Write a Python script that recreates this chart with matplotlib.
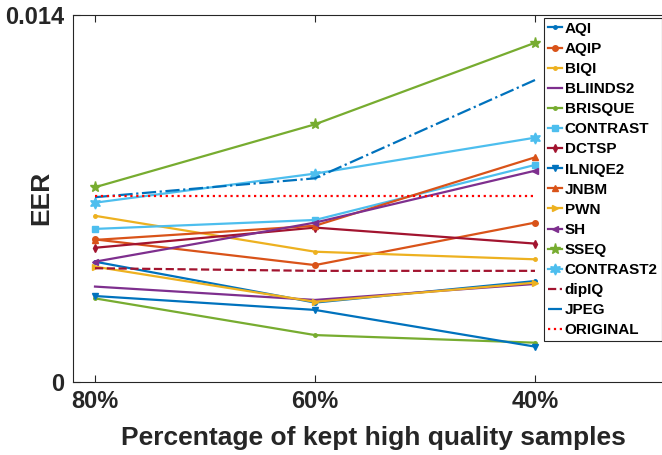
import matplotlib
matplotlib.use('Agg')
import matplotlib.pyplot as plt

plt.rcParams['font.family'] = ['Liberation Sans', 'DejaVu Sans']
plt.rcParams['font.weight'] = 'bold'

# data
xlabels = ['80%', '60%', '40%']
AQI = [0.00459, 0.00303, 0.00385]
AQIP = [0.00544, 0.00446, 0.00608]
BIQI = [0.00634, 0.00497, 0.00468]
BLIINDS2 = [0.00364, 0.00313, 0.00374]
BRISQUE = [0.00319, 0.00179, 0.00150]
CONTRAST = [0.00584, 0.00618, 0.00828]
DCTSP = [0.00512, 0.00589, 0.00528]
ILNIQE2 = [0.00328, 0.00275, 0.00135]
JNBM = [0.00542, 0.00596, 0.00857]
PWN = [0.00440, 0.00306, 0.00379]
SH = [0.00459, 0.00608, 0.00806]
SSEQ = [0.00743, 0.00983, 0.01294]
CONTRAST2 = [0.00684, 0.00795, 0.00932]
dipIQ = [0.00434, 0.00424, 0.00424]
JPEG = [0.00705, 0.00777, 0.01152]
ORIGINAL = [0.00711, 0.00711, 0.00711]

blue = '#0072BD'
orange = '#D95319'
yellow = '#EDB120'
purple = '#7E2F8E'
green = '#77AC30'
cyan = '#4DBEEE'
darkred = '#A2142F'

hexagram = (6, 1, 0)

series = [
    ('AQI', AQI, blue, '.', '-'),
    ('AQIP', AQIP, orange, 'o', '-'),
    ('BIQI', BIQI, yellow, '.', '-'),
    ('BLIINDS2', BLIINDS2, purple, '', '-'),
    ('BRISQUE', BRISQUE, green, '.', '-'),
    ('CONTRAST', CONTRAST, cyan, 's', '-'),
    ('DCTSP', DCTSP, darkred, 'd', '-'),
    ('ILNIQE2', ILNIQE2, blue, 'v', '-'),
    ('JNBM', JNBM, orange, '^', '-'),
    ('PWN', PWN, yellow, '>', '-'),
    ('SH', SH, purple, '<', '-'),
    ('SSEQ', SSEQ, green, '*', '-'),
    ('CONTRAST2', CONTRAST2, cyan, hexagram, '-'),
    ('dipIQ', dipIQ, darkred, '', '--'),
    ('JPEG', JPEG, blue, '', '-.'),
    ('ORIGINAL', ORIGINAL, '#FF0000', '', ':'),
]

text_c = '#262626'

fig = plt.figure(figsize=(6.62, 4.55), dpi=100)
ax = fig.add_axes([73 / 662, 73 / 455, 600 / 662, 367 / 455])

x = [1, 2, 3]
for name, vals, col, mk, ls in series:
    ms = 5
    if mk == '.':
        ms = 5
    elif mk == '*' or mk == hexagram:
        ms = 8
    elif mk in ('o', 's', 'd'):
        ms = 4
    ax.plot(x, vals, color=col, marker=mk, linestyle=ls, linewidth=1.6,
            markersize=ms, label=name)

ax.set_xlim(0.9, 0.9 + 600 / 220)
ax.set_ylim(0, 0.014)
ax.set_xticks(x)
ax.set_xticklabels(xlabels)
ax.set_yticks([0, 0.014])
ax.set_yticklabels(['0', '0.014'])
ax.tick_params(direction='in', top=True, right=True, length=5, width=0.8,
               colors=text_c, labelsize=17, pad=6)
for s in ax.spines.values():
    s.set_color(text_c)
    s.set_linewidth(0.8)

ax.set_xlabel('Percentage of kept high quality samples', fontsize=19,
              fontweight='bold', color=text_c, labelpad=9)
ax.set_ylabel('EER', fontsize=19, fontweight='bold', color=text_c)
ax.yaxis.set_label_coords((53 - 73) / 600, (382 - 197.5) / 367)

leg = ax.legend(loc='upper right', bbox_to_anchor=(661.5 / 662, 1 - 18 / 455),
                bbox_transform=fig.transFigure, borderaxespad=0,
                fontsize=11, handlelength=0.95, handletextpad=0.15,
                labelspacing=0.4, borderpad=0.25, fancybox=False,
                framealpha=1, edgecolor=text_c)
leg.get_frame().set_linewidth(0.8)
for t in leg.get_texts():
    t.set_fontweight('bold')
    t.set_color('black')

fig.savefig('out.png', dpi=100)
